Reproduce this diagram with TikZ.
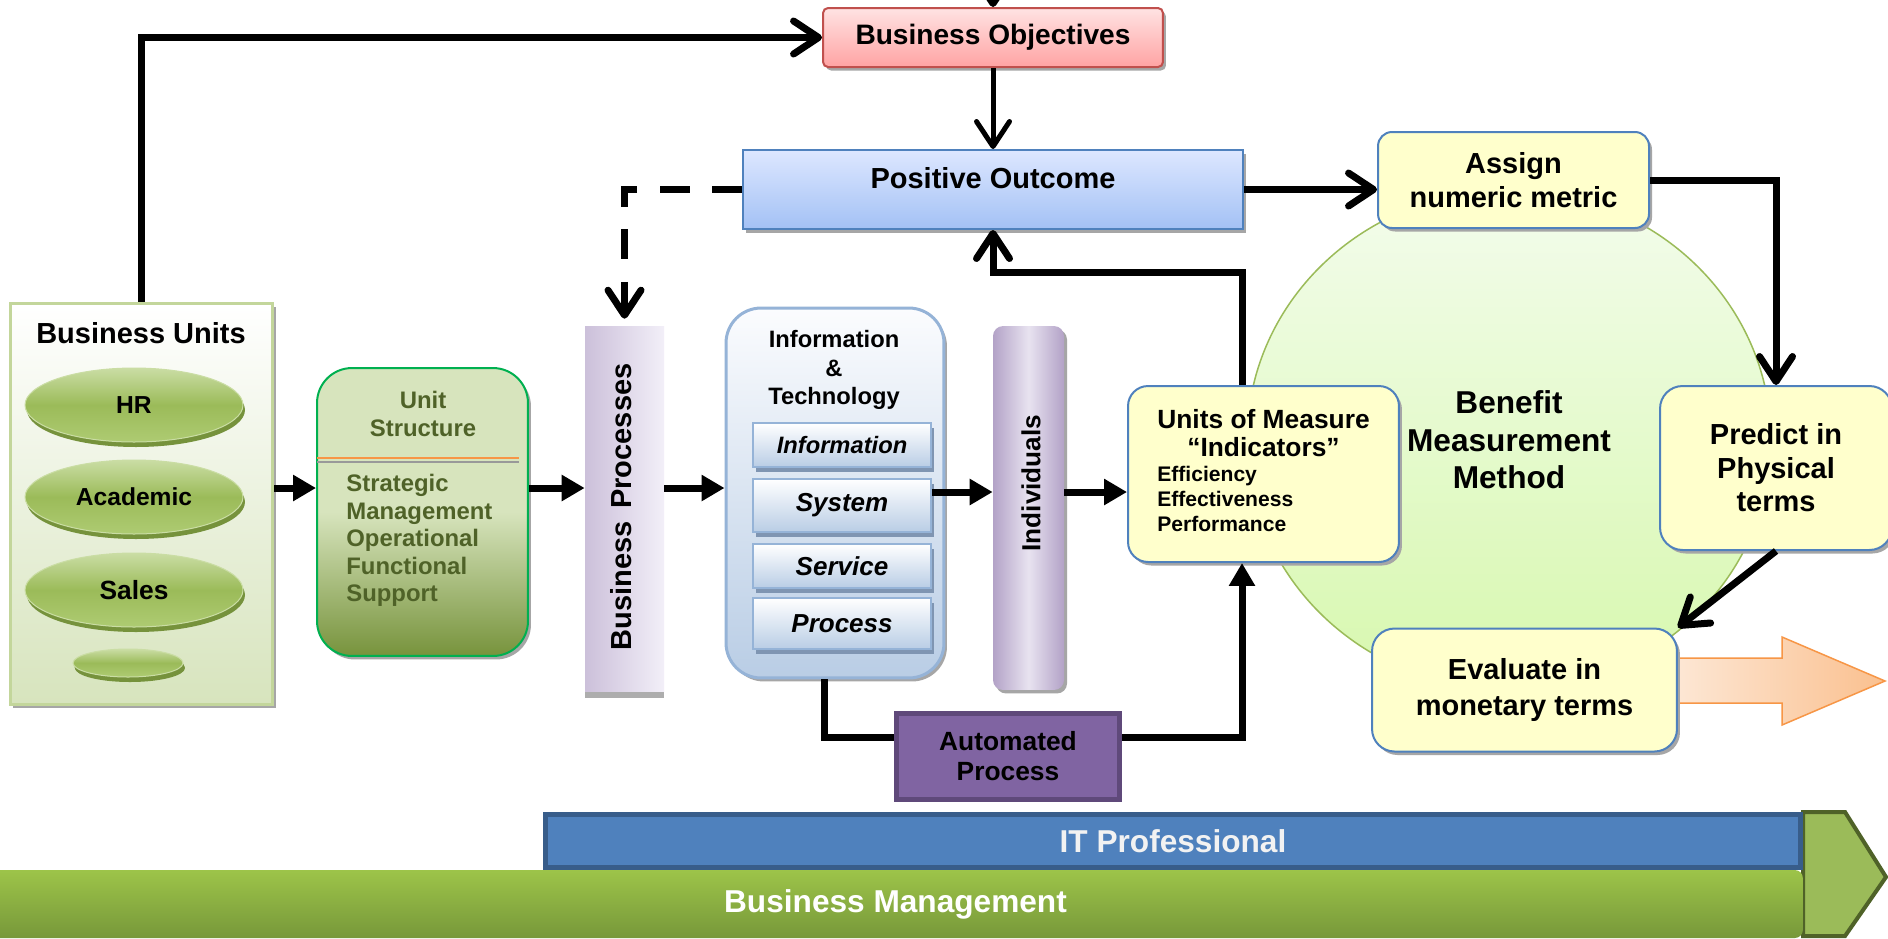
\documentclass[tikz,border=0pt]{standalone}
\usepackage{fontspec}
\setmainfont{Liberation Sans}
\usetikzlibrary{arrows.meta,shapes.geometric,shadows}

\newcommand\boldsize[2]{\fontsize{#1}{#2}\selectfont\bfseries}

\begin{document}
\begin{tikzpicture}[x=0.02cm,y=-0.02cm,
  every node/.style={inner sep=0pt,font=\boldsize{16.5}{19}},
  flow/.style={line width=0.14cm},
  barb/.style={-{Straight Barb[length=0.5cm,width=0.66cm,round]}},
  head/.style={-{Triangle[length=0.46cm,width=0.5cm]}},
  dashline/.style={dash pattern=on 0.6cm off 0.45cm},
  grayshadow/.style={drop shadow={shadow xshift=0.06cm,shadow yshift=-0.07cm,fill=black!35,opacity=1}},
  oval/.style={ellipse,draw=ovalLight,line width=0.02cm,top color=ovalLight,bottom color=ovalLow,
    middle color=ovalMid,minimum width=4.36cm,minimum height=1.48cm,font=\boldsize{14}{16},
    drop shadow={shadow xshift=0.04cm,shadow yshift=-0.1cm,fill=ovalShade,opacity=1}},
  techcell/.style={draw=techEdge,line width=0.04cm,top color=white,bottom color=techBottom,
    minimum width=3.56cm,font=\boldsize{14.8}{17}\itshape,
    drop shadow={shadow xshift=0.06cm,shadow yshift=-0.09cm,fill=techShade,opacity=1}},
  note/.style={draw=noteEdge,line width=0.04cm,fill=noteFill,rounded corners=0.45cm,
    align=center,grayshadow}]
\definecolor{unitsFrame}{HTML}{C3D69B}
\definecolor{unitsBottom}{HTML}{D7E4BD}
\definecolor{ovalLight}{HTML}{CADDA4}
\definecolor{ovalMid}{HTML}{9BBB59}
\definecolor{ovalLow}{HTML}{AECB72}
\definecolor{ovalShade}{HTML}{76923C}
\definecolor{structTop}{HTML}{D7E4BD}
\definecolor{structBottom}{HTML}{77933C}
\definecolor{structEdge}{HTML}{00B050}
\definecolor{structText}{HTML}{4F6228}
\definecolor{procLeft}{HTML}{CCC0DA}
\definecolor{procRight}{HTML}{F2EFF8}
\definecolor{techTop}{HTML}{FBFCFE}
\definecolor{techBottom}{HTML}{B9CDE5}
\definecolor{techEdge}{HTML}{95B3D7}
\definecolor{techShade}{HTML}{7F95B2}
\definecolor{peopleSide}{HTML}{B3A2C7}
\definecolor{peopleMid}{HTML}{E8E3F0}
\definecolor{autoFill}{HTML}{8064A2}
\definecolor{autoEdge}{HTML}{5F497A}
\definecolor{noteFill}{HTML}{FFFFCC}
\definecolor{noteEdge}{HTML}{4F81BD}
\definecolor{goalTop}{HTML}{FFE3E3}
\definecolor{goalBottom}{HTML}{FFA3A3}
\definecolor{goalEdge}{HTML}{C0504D}
\definecolor{outcomeTop}{HTML}{DDE7FF}
\definecolor{outcomeBottom}{HTML}{A3C1F5}
\definecolor{methodTop}{HTML}{F3FCEC}
\definecolor{methodBottom}{HTML}{D7F8AE}
\definecolor{methodEdge}{HTML}{9BBB59}
\definecolor{moneyLeft}{HTML}{FDEADA}
\definecolor{moneyRight}{HTML}{FAC08F}
\definecolor{moneyEdge}{HTML}{F79646}
\definecolor{itFill}{HTML}{4F81BD}
\definecolor{itEdge}{HTML}{385D8A}
\definecolor{mgmtTop}{HTML}{9DC449}
\definecolor{mgmtBottom}{HTML}{77983A}
\definecolor{tipFill}{HTML}{9BBB59}
\definecolor{tipEdge}{HTML}{4F6228}
\useasboundingbox[fill=white] (0,0) rectangle (1888,938);

% business units and their structure
\node[draw=unitsFrame,line width=0.06cm,top color=white,bottom color=unitsBottom,
  minimum width=5.26cm,minimum height=8.04cm,grayshadow] (bu) at (141.5,504) {};
\node (butitle) at (141,333) {Business Units};
\node[oval] (hr) at (134,405) {HR};
\node[oval] (acad) at (134,497) {Academic};
\node[oval,font=\boldsize{15}{17}] (sales) at (134,590) {Sales};
\node[oval,minimum width=2.2cm,minimum height=0.56cm,
  drop shadow={shadow xshift=0.03cm,shadow yshift=-0.08cm,fill=ovalShade,opacity=1}] (more) at (128,663) {};

\node[draw=structEdge,line width=0.04cm,rounded corners=0.7cm,top color=structTop,
  bottom color=structBottom,middle color=structTop,minimum width=4.22cm,minimum height=5.76cm,
  grayshadow] (ustr) at (422.5,512) {};
\node[text=structText,align=center,font=\boldsize{13.6}{15.6}] (ustrhead) at (423,414) {Unit\\Structure};
\draw[moneyEdge,line width=0.05cm] (317,458) -- (519,458);
\draw[black!40,line width=0.05cm] (317,462) -- (519,462);
\node[text=structText,align=left,anchor=west,font=\boldsize{13.6}{15.6}] (ustrlist) at (346,540.5)
  {Strategic\\Management\\Operational\\Functional\\Support};

% processes, technology and people
\node[left color=procLeft,right color=procRight,minimum width=1.58cm,minimum height=7.32cm,
  drop shadow={shadow xshift=0cm,shadow yshift=-0.12cm,fill=black!32,opacity=1}] (bp) at (624.5,509) {};
\node[rotate=90] (bptext) at (621,507) {Business\hspace{0.45em}Processes};

\node[draw=techEdge,line width=0.06cm,rounded corners=0.7cm,top color=techTop,bottom color=techBottom,
  minimum width=4.36cm,minimum height=7.4cm,grayshadow] (itbox) at (835,493) {};
\node[align=center,font=\boldsize{13.5}{16.2}] (ithead) at (834,370) {Information\\\&\\Technology};
\node[techcell,minimum height=0.88cm,font=\boldsize{13.5}{16}\itshape] (info) at (842,445) {Information};
\node[techcell,minimum height=1.06cm] (sys) at (842,505.5) {System};
\node[techcell,minimum height=0.88cm] (serv) at (842,566) {Service};
\node[techcell,minimum height=1.02cm] (proc) at (842,623.5) {Process};

\node[left color=peopleSide,right color=peopleSide,middle color=peopleMid,rounded corners=0.2cm,
  minimum width=1.42cm,minimum height=7.28cm,grayshadow] (indiv) at (1028.5,508) {};
\node[rotate=90,font=\boldsize{14.9}{17}] (indivtext) at (1031,483) {Individuals};

\node[draw=autoEdge,line width=0.1cm,fill=autoFill,minimum width=4.48cm,minimum height=1.72cm,
  align=center,font=\boldsize{15}{17}] (autoproc) at (1008,756) {Automated\\Process};

% objectives and outcome
\node[draw=goalEdge,line width=0.04cm,rounded corners=0.1cm,top color=goalTop,bottom color=goalBottom,
  minimum width=6.8cm,minimum height=1.18cm,font=\boldsize{16}{19},grayshadow] (goal) at (993,37.5)
  {Business Objectives};
\node[draw=noteEdge,line width=0.04cm,top color=outcomeTop,bottom color=outcomeBottom,
  minimum width=10cm,text height=0.76cm,text depth=0.82cm,grayshadow] (pos) at (993,189.5)
  {Positive Outcome};

% benefit measurement cycle
\node[ellipse,draw=methodEdge,line width=0.03cm,top color=methodTop,bottom color=methodBottom,
  minimum width=10.48cm,minimum height=10cm,align=center,font=\boldsize{18}{21.3}] (bmm) at (1509,440)
  {Benefit\\Measurement\\Method};
\draw[moneyEdge,line width=0.03cm,left color=moneyLeft,right color=moneyRight]
  (1660,658) -- (1782,658) -- (1782,637) -- (1885,681) -- (1782,725) -- (1782,703) -- (1660,703) -- cycle;
\node[note,rounded corners=0.28cm,minimum width=5.42cm,minimum height=1.92cm] (assign) at (1513.5,180)
  {Assign\\numeric metric};
\node[note,minimum width=4.64cm,minimum height=3.28cm] (predict) at (1776,468) {Predict in\\Physical\\terms};
\node[note,minimum width=6.1cm,minimum height=2.46cm,font=\boldsize{16.5}{20}] (evaluate) at (1524.5,690)
  {Evaluate in\\monetary terms};
\node[note,rounded corners=0.4cm,minimum width=5.42cm,minimum height=3.52cm,font=\boldsize{15}{16.5}]
  (units) at (1263.5,474) {\begin{tabular}{@{}l@{}}
    \multicolumn{1}{@{}c@{}}{Units of Measure}\\[-0.6pt]
    \multicolumn{1}{@{}c@{}}{“Indicators”}\\[-2.3pt]
    \boldsize{12}{14}Efficiency\\[-2.3pt]
    \boldsize{12}{14}Effectiveness\\[-2.3pt]
    \boldsize{12}{14}Performance
  \end{tabular}};

% roles along the bottom
\draw[tipEdge,fill=tipFill,line width=0.08cm] (1803,812) -- (1845,812) -- (1886,877) -- (1845,936)
  -- (1803,936) -- cycle;
\node[draw=itEdge,line width=0.1cm,fill=itFill,minimum width=25.1cm,minimum height=1.06cm,
  text=white!95!black,font=\boldsize{18}{21}] (itpro) at (1173,841) {IT Professional};
\node[top color=mgmtTop,bottom color=mgmtBottom,rounded corners=0.16cm,minimum width=36.3cm,
  minimum height=1.36cm,text=white,font=\boldsize{18}{21}] (mgmt) at (895.5,904) {Business Management};

% connectors
\coordinate (feed) at (993,-45);
\coordinate (lift) at (1242,272);
\coordinate (row) at (0,488);
\coordinate (rowb) at (0,492);
\coordinate (drop) at (824,737);
\draw[flow,barb] (bu.north) |- (goal.west);
\draw[flow,barb] (feed) -- (goal.north);
\draw[line width=0.1cm,barb] (goal.south) -- (pos.north);
\draw[flow,dashline,barb,shorten >=0.14cm] (pos.west) -| (bp.north);
\draw[flow,barb] (pos.east) -- (pos.east -| assign.west);
\draw[flow,barb] (assign.east) -| (predict.north);
\draw[flow,barb] (predict.south) -- (evaluate.north east);
\draw[flow,barb] (units.north -| lift) -- (lift) -| (pos.south);
\draw[flow,head] (bu.east |- row) -- (ustr.west |- row);
\draw[flow,head] (ustr.east |- row) -- (bp.west |- row);
\draw[flow,head] (bp.east |- row) -- (itbox.west |- row);
\draw[flow,head] (sys.east |- rowb) -- (indiv.west |- rowb);
\draw[flow,head] (indiv.east |- rowb) -- (units.west |- rowb);
\draw[flow] (itbox.south -| drop) -- (drop) -- (drop -| autoproc.west);
\draw[flow,head] (drop -| autoproc.east) -| (units.south -| lift);
\end{tikzpicture}
\end{document}
